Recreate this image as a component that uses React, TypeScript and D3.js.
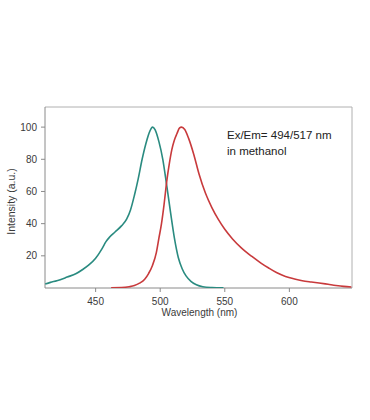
import React from "react";
import * as d3 from "d3";

const exWavelengths = [411, 415, 420, 428, 435, 440, 445, 450, 455, 458, 461, 465, 470, 474, 477, 480, 483, 486, 489, 492, 494, 496, 499, 502, 505, 508, 511, 514, 517, 520, 524, 528, 533, 540, 549];
const exValues = [2.5, 3.5, 4.5, 6.8, 9, 11.5, 14.5, 18.5, 24.5, 28.8, 31.8, 34.8, 38.6, 42.8, 48.5, 57.5, 68, 80, 90, 97.5, 100, 98.5, 91, 80, 64, 47, 31, 19, 12, 7.5, 4, 2, 0.8, 0.3, 0.1];

const emWavelengths = [462, 470, 476, 480, 484, 488, 491, 494, 497, 499, 501, 503, 505, 507, 509, 511, 513, 515, 516.5, 519, 522, 526, 530, 535, 540, 545, 550, 556, 563, 571, 578, 584, 590, 597, 604, 610, 617, 623, 630, 636, 642, 648];
const emValues = [0.2, 0.3, 0.8, 1.5, 3, 5.5, 9, 14, 22, 31, 40, 52, 66, 77, 86, 92, 96, 99.5, 100, 98.5, 93, 83, 71, 59, 50, 42.6, 36.5, 30.5, 24.8, 19.6, 15.5, 12.4, 9.6, 7.2, 5.6, 4.5, 3.7, 3.1, 2.3, 1.6, 1.0, 0.6];

const xTicks = [450, 500, 550, 600];
const yTicks = [20, 40, 60, 80, 100];
const annotationLines = ["Ex/Em= 494/517 nm", "in methanol"];
const xLabel = "Wavelength (nm)";
const yLabel = "Intensity (a.u.)";

export default function App() {
  const W = 370, H = 420;
  const left = 45, right = 352, top = 107, bottom = 288;
  const x = d3.scaleLinear().domain([410.8, 648.5]).range([left, right]);
  const y = d3.scaleLinear().domain([0, 112.5]).range([bottom, top]);
  const line = d3
    .line<[number, number]>()
    .x((d) => x(d[0]))
    .y((d) => y(d[1]))
    .curve(d3.curveMonotoneX);
  const ex = exWavelengths.map((w, i) => [w, exValues[i]] as [number, number]);
  const em = emWavelengths.map((w, i) => [w, emValues[i]] as [number, number]);
  const font = "Liberation Sans, Arial, sans-serif";
  const textColor = "#3a3a3a";
  const axisColor = "#8a8a8a";

  return (
    <svg width={W} height={H} style={{ position: "absolute", left: 0, top: 0, background: "#fff" }} fontFamily={font}>
      <defs>
        <clipPath id="plotclip">
          <rect x={left} y={top} width={right - left} height={bottom - top} />
        </clipPath>
      </defs>
      <line x1={left} y1={top} x2={right} y2={top} stroke="#b0b0b0" strokeWidth={1} />
      <line x1={right} y1={top} x2={right} y2={bottom} stroke="#b0b0b0" strokeWidth={1} />
      <line x1={left} y1={top} x2={left} y2={bottom} stroke={axisColor} strokeWidth={1} />
      <line x1={left} y1={bottom} x2={right} y2={bottom} stroke={axisColor} strokeWidth={1} />
      {yTicks.map((t) => (
        <g key={"y" + t}>
          <line x1={left - 4} x2={left} y1={y(t)} y2={y(t)} stroke={axisColor} />
          <text x={left - 8} y={y(t) + 3.5} fontSize={10} textAnchor="end" fill={textColor}>
            {t}
          </text>
        </g>
      ))}
      {xTicks.map((t) => (
        <g key={"x" + t}>
          <line x1={x(t)} x2={x(t)} y1={bottom} y2={bottom + 4} stroke={axisColor} />
          <text x={x(t)} y={bottom + 17} fontSize={10} textAnchor="middle" fill={textColor}>
            {t}
          </text>
        </g>
      ))}
      <text x={(left + right) / 2 + 1} y={316} fontSize={10} textAnchor="middle" fill={textColor}>
        {xLabel}
      </text>
      <text
        transform={`translate(15, ${(top + bottom) / 2 + 4}) rotate(-90)`}
        fontSize={10.5}
        textAnchor="middle"
        fill={textColor}
      >
        {yLabel}
      </text>
      <g clipPath="url(#plotclip)">
        <path d={line(ex) || ""} fill="none" stroke="#2a8b80" strokeWidth={1.6} />
        <path d={line(em) || ""} fill="none" stroke="#c83a3c" strokeWidth={1.6} />
      </g>
      {annotationLines.map((s, i) => (
        <text key={s} x={227} y={139 + i * 16} fontSize={11.5} fill="#222">
          {s}
        </text>
      ))}
    </svg>
  );
}
